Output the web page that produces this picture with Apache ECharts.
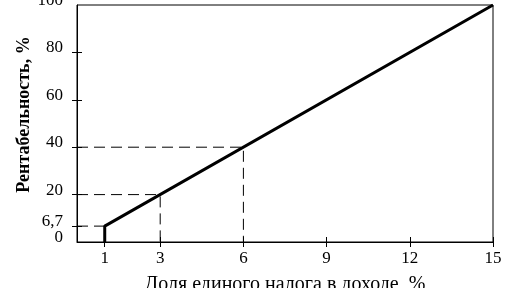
<!DOCTYPE html>
<html><head><meta charset="utf-8">
<script src="https://cdn.jsdelivr.net/npm/echarts@6/dist/echarts.min.js"></script>
<style>html,body{margin:0;padding:0;background:#fff}#c{width:509px;height:288px}</style>
</head><body><div id="c"></div>
<script>
const xTitle = 'Доля единого налога в доходе, %';
const yTitle = 'Рентабельность, %';
const xTicks = [1, 3, 6, 9, 12, 15];
const yTicks = [0, 20, 40, 60, 80, 100];
const yExtraTick = [6.7];
const lineX = [1, 1, 15];
const lineY = [0, 6.7, 100];
const guideX = [1, 3, 6];
const guideY = [6.7, 20, 40];

const font = 'Liberation Serif';
const chart = echarts.init(document.getElementById('c'));
const series = [{
  type: 'line', data: lineX.map((x, i) => [x, lineY[i]]), showSymbol: false,
  lineStyle: {color: '#000', width: 3}, z: 5, animation: false
}];
guideX.forEach((gx, i) => {
  const pts = [[0, guideY[i]], [gx, guideY[i]]];
  if (gx !== 1) pts.push([gx, 0]);
  series.push({type: 'line', data: pts, showSymbol: false, animation: false,
    lineStyle: {color: '#000', width: 1, type: [11, 6]}, z: 3});
});
const tickVals = yTicks.concat(yExtraTick).filter(v => v > 0 && v < 100);
const labelStyle = {fontFamily: font, fontSize: 17, color: '#000', margin: 14, verticalAlign: 'bottom', lineHeight: 9};
chart.setOption({
  animation: false,
  grid: {left: 77, right: 16, top: 5, bottom: 46, outerBoundsMode: 'none', containLabel: false,
    show: true, borderColor: '#000', borderWidth: 1},
  xAxis: [{
    type: 'value', min: 0, max: 15,
    name: xTitle, nameLocation: 'middle', nameGap: 33, nameMoveOverlap: false,
    nameTextStyle: {fontFamily: font, fontSize: 20, color: '#000'},
    axisLine: {lineStyle: {color: '#000', width: 1}},
    axisTick: {customValues: xTicks, length: 5, lineStyle: {color: '#000'}},
    axisLabel: {customValues: xTicks, fontFamily: font, fontSize: 17, color: '#000', margin: 8},
    splitLine: {show: false}
  }, {
    type: 'value', min: 0, max: 15, position: 'bottom',
    axisLine: {show: false}, axisLabel: {show: false}, splitLine: {show: false},
    axisTick: {customValues: xTicks, inside: true, length: 5, lineStyle: {color: '#000'}}
  }],
  yAxis: [{
    type: 'value', min: 0, max: 100,
    name: yTitle, nameLocation: 'middle', nameGap: 44, nameMoveOverlap: false,
    nameTextStyle: {fontFamily: font, fontSize: 18, fontWeight: 'bold', color: '#000', padding: [0, 0, 0, 18]},
    axisLine: {lineStyle: {color: '#000', width: 1}},
    axisTick: {customValues: tickVals, length: 5, lineStyle: {color: '#000'}},
    axisLabel: Object.assign({customValues: yTicks, showMinLabel: true, showMaxLabel: true,
      formatter: v => String(v)}, labelStyle),
    splitLine: {show: false}
  }, {
    type: 'value', min: 0, max: 100, position: 'left',
    axisLine: {show: false}, axisLabel: {show: false}, splitLine: {show: false},
    axisTick: {customValues: tickVals, inside: true, length: 5, lineStyle: {color: '#000'}}
  }, {
    type: 'value', min: 0, max: 100, position: 'left',
    axisLine: {show: false}, axisTick: {show: false}, splitLine: {show: false},
    axisLabel: Object.assign({customValues: yExtraTick,
      formatter: v => String(v).replace('.', ',')}, labelStyle)
  }],
  series: series
});
</script></body></html>
